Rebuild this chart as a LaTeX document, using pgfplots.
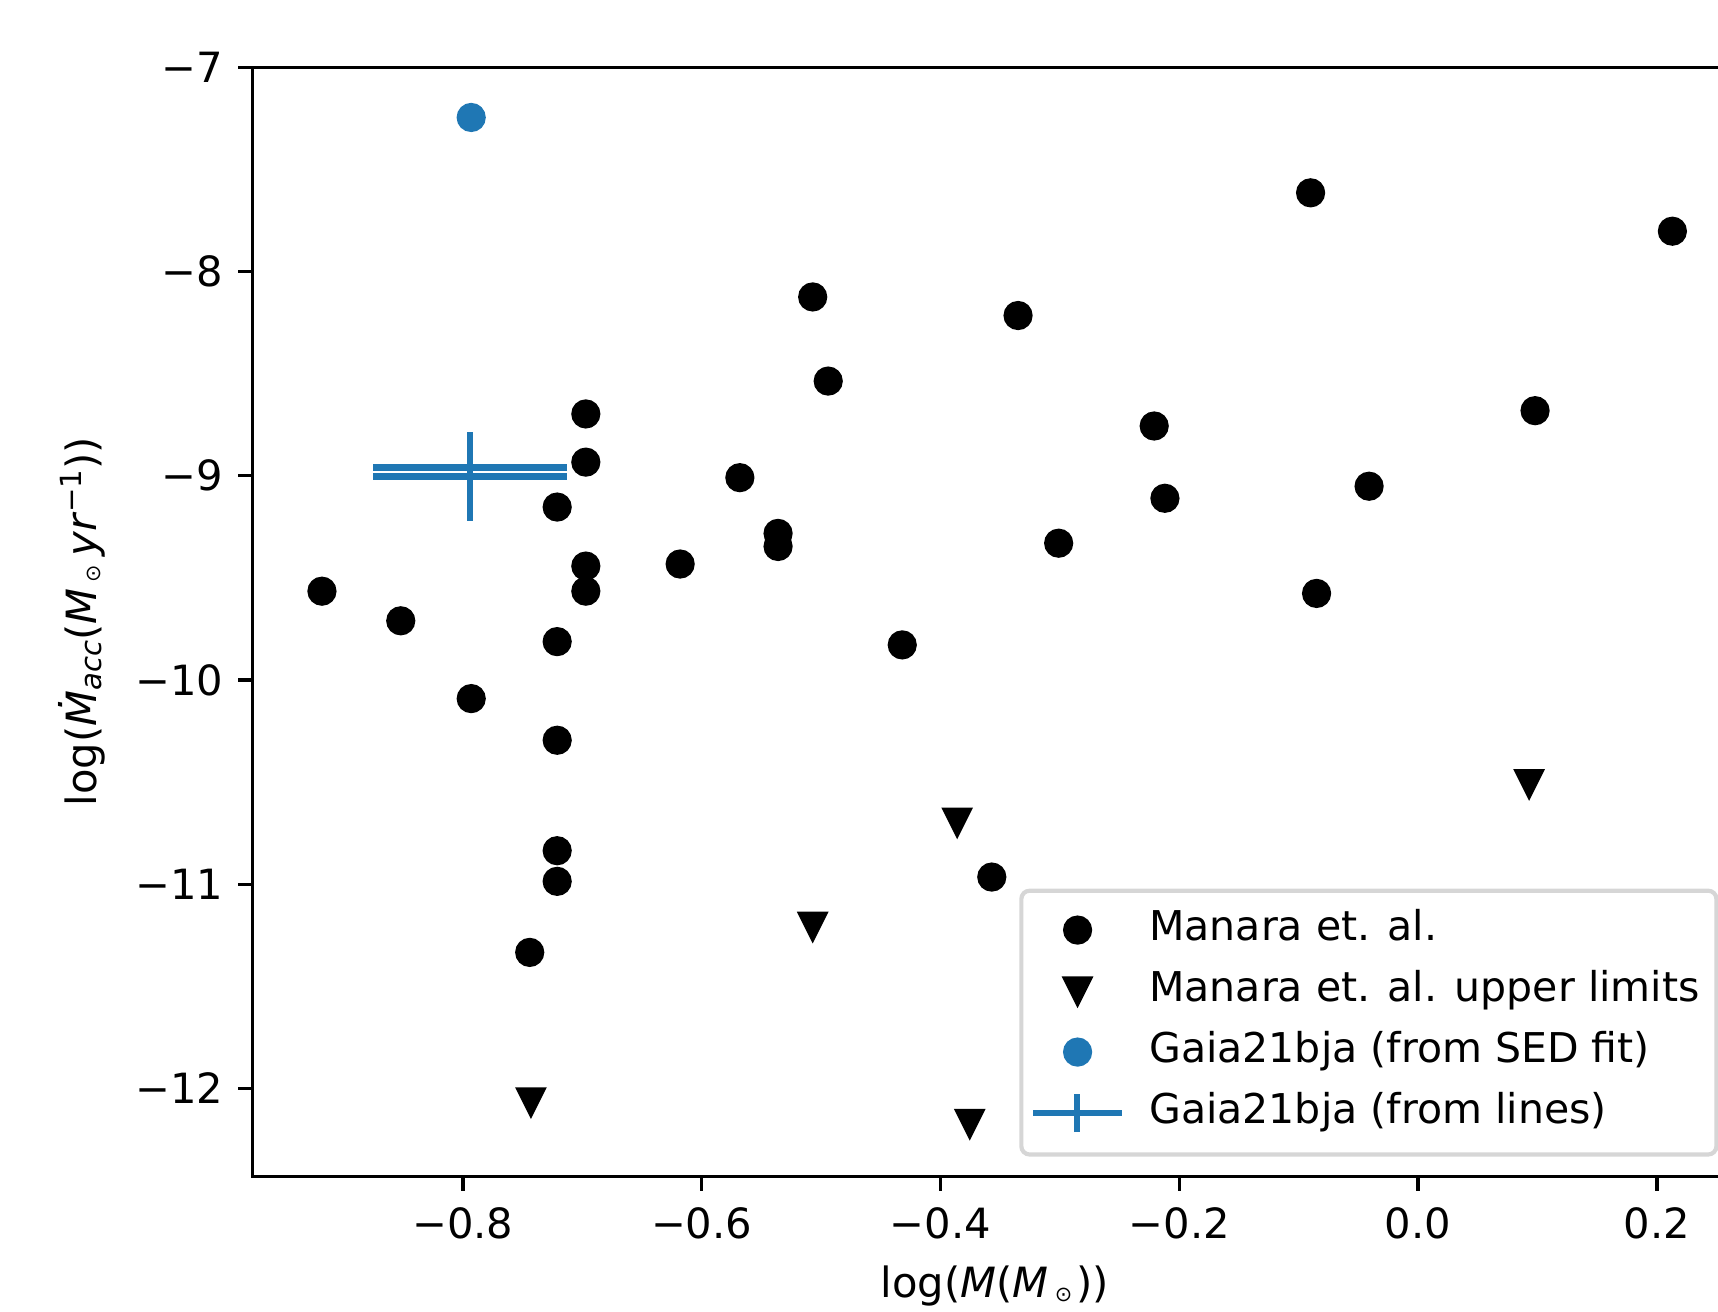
\documentclass[border=0pt]{standalone}
\usepackage{fontspec}
\setmainfont{DejaVu Sans}
\usepackage{pgfplots}
\usepackage{pgfplotstable}
\pgfplotsset{compat=1.18}
\definecolor{mplblue}{HTML}{1F77B4}
\definecolor{legedge}{HTML}{D6D6D6}

\pgfdeclareplotmark{mtriv}{%
  \pgfpathmoveto{\pgfqpoint{0pt}{-\pgfplotmarksize}}%
  \pgfpathlineto{\pgfqpoint{-\pgfplotmarksize}{\pgfplotmarksize}}%
  \pgfpathlineto{\pgfqpoint{\pgfplotmarksize}{\pgfplotmarksize}}%
  \pgfpathclose
  \pgfusepathqfillstroke}

\pgfplotsset{markleg/.style={legend image code/.code={%
    \path[draw=none, fill=none] (0pt,-3.2pt) rectangle (20pt,7.5pt);
    \pgfinterruptboundingbox
    \draw[##1] plot coordinates {(9.5pt,2.4pt)};
    \endpgfinterruptboundingbox}}}

\newcommand{\lsub}[1]{\raisebox{-1.2pt}{\fontsize{7}{7}\selectfont #1}}
\newcommand{\lsup}[1]{\raisebox{3.6pt}{\fontsize{7}{7}\selectfont #1}}
\newcommand{\sunsym}{\raisebox{-0.8pt}{\fontsize{5}{5}\selectfont ⊙}}

\pgfplotstableread{
x y
-0.918 -9.565
-0.852 -9.710
-0.793 -10.091
-0.721 -9.153
-0.697 -8.697
-0.697 -8.933
-0.697 -9.442
-0.697 -9.565
-0.721 -9.812
-0.721 -10.295
-0.721 -10.836
-0.721 -10.986
-0.744 -11.334
-0.618 -9.432
-0.568 -9.009
-0.536 -9.282
-0.536 -9.346
-0.507 -8.124
-0.494 -8.536
-0.432 -9.828
-0.357 -10.965
-0.335 -8.215
-0.301 -9.330
-0.221 -8.756
-0.212 -9.110
-0.090 -7.614
-0.085 -9.576
-0.041 -9.051
0.098 -8.681
0.213 -7.802
}\manara

\pgfplotstableread{
x y
-0.743 -12.066
-0.507 -11.206
-0.386 -10.696
-0.3755 -12.172
0.093 -10.508
}\upper

\pgfplotstableread{
x y
-0.793 -7.245
}\sed

\pgfplotstableread{
x y ex ey
-0.794 -9.003 0.081 0.220
}\linesB

\pgfplotstableread{
x y ex ey
-0.794 -8.959 0.081 0.171
}\linesA

\begin{document}
\begin{tikzpicture}
\begin{axis}[
  at={(0pt,0pt)}, anchor=south west,
  scale only axis, width=356.2pt, height=266.1pt,
  xmin=-0.976, xmax=0.267, ymin=-12.43, ymax=-7,
  xtick={-0.8,-0.6,-0.4,-0.2,0,0.2},
  xticklabels={−0.8,−0.6,−0.4,−0.2,0.0,0.2},
  ytick={-12,-11,-10,-9,-8,-7},
  yticklabels={−12,−11,−10,−9,−8,−7},
  tick pos=left, tick align=outside, major tick length=3.5pt,
  every tick/.style={black, line width=0.8pt},
  axis line style={black, line width=0.8pt},
  xticklabel style={anchor=north, inner sep=0pt, yshift=-3.9pt},
  yticklabel style={anchor=east, inner sep=0pt, xshift=-3.4pt},
  every axis x label/.style={at={(axis description cs:0.5,0)}, anchor=base, yshift=-29.2pt},
  every axis y label/.style={at={(axis description cs:0,0.5)}, xshift=-37.4pt, rotate=90, anchor=base},
  xlabel={log(\textit{M}(\textit{M}\kern1.5pt\sunsym\kern1pt))},
  ylabel={log(\textit{Ṁ}\lsub{\textit{acc}}(\textit{M}\kern1.5pt\sunsym\kern2pt\textit{yr}\lsup{−1}))},
  legend cell align=left,
  legend style={at={(rel axis cs:1,0)}, anchor=south east, xshift=-4.4pt, yshift=4.7pt,
    draw=legedge, line width=1pt, rounded corners=2pt, fill=white,
    font=\fontsize{9.85}{12}\selectfont,
    inner xsep=4pt, inner ysep=4.35pt, row sep=3.94pt,
    nodes={inner sep=0pt, text height=7.5pt, text depth=3.2pt, anchor=base west},
    /tikz/every odd column/.style={column sep=6.7pt}},
]
\addplot[only marks, mark=*, mark size=3pt, mark options={fill=black, draw=black, line width=1pt}, markleg]
  table[x=x,y=y]{\manara};
\addlegendentry{Manara et. al.}
\addplot[only marks, mark=mtriv, mark size=3pt, mark options={fill=black, draw=black, line width=1pt, miter limit=10}, markleg]
  table[x=x,y=y]{\upper};
\addlegendentry{Manara et. al. upper limits}
\addplot[only marks, mark=*, mark size=3pt, mark options={fill=mplblue, draw=mplblue, line width=1pt}, markleg]
  table[x=x,y=y]{\sed};
\addlegendentry{Gaia21bja (from SED fit)}
\addplot[mplblue, line width=1.5pt, mark=none, forget plot,
  error bars/.cd, x dir=both, x explicit, y dir=both, y explicit, error mark=none,
  error bar style={line width=1.5pt, mplblue}]
  table[x=x, y=y, x error=ex, y error=ey]{\linesA};
\addplot[mplblue, line width=1.5pt, mark=none,
  legend image code/.code={%
    \path[draw=none, fill=none] (0pt,-3.2pt) rectangle (20pt,7.5pt);
    \pgfinterruptboundingbox
    \draw[mplblue, line width=1.5pt, rounded corners=0pt] (-1.2pt,2.5pt) -- (20.2pt,2.5pt);
    \draw[mplblue, line width=1.5pt, rounded corners=0pt] (9.3pt,-2.2pt) -- (9.3pt,7.0pt);
    \endpgfinterruptboundingbox},
  error bars/.cd, x dir=both, x explicit, y dir=both, y explicit, error mark=none,
  error bar style={line width=1.5pt, mplblue}]
  table[x=x, y=y, x error=ex, y error=ey]{\linesB};
\addlegendentry{Gaia21bja (from lines)}
\end{axis}
\pgfresetboundingbox
\path[use as bounding box] (-60.65pt,-32.59pt) rectangle (351.67pt,282.29pt);
\end{tikzpicture}
\end{document}
